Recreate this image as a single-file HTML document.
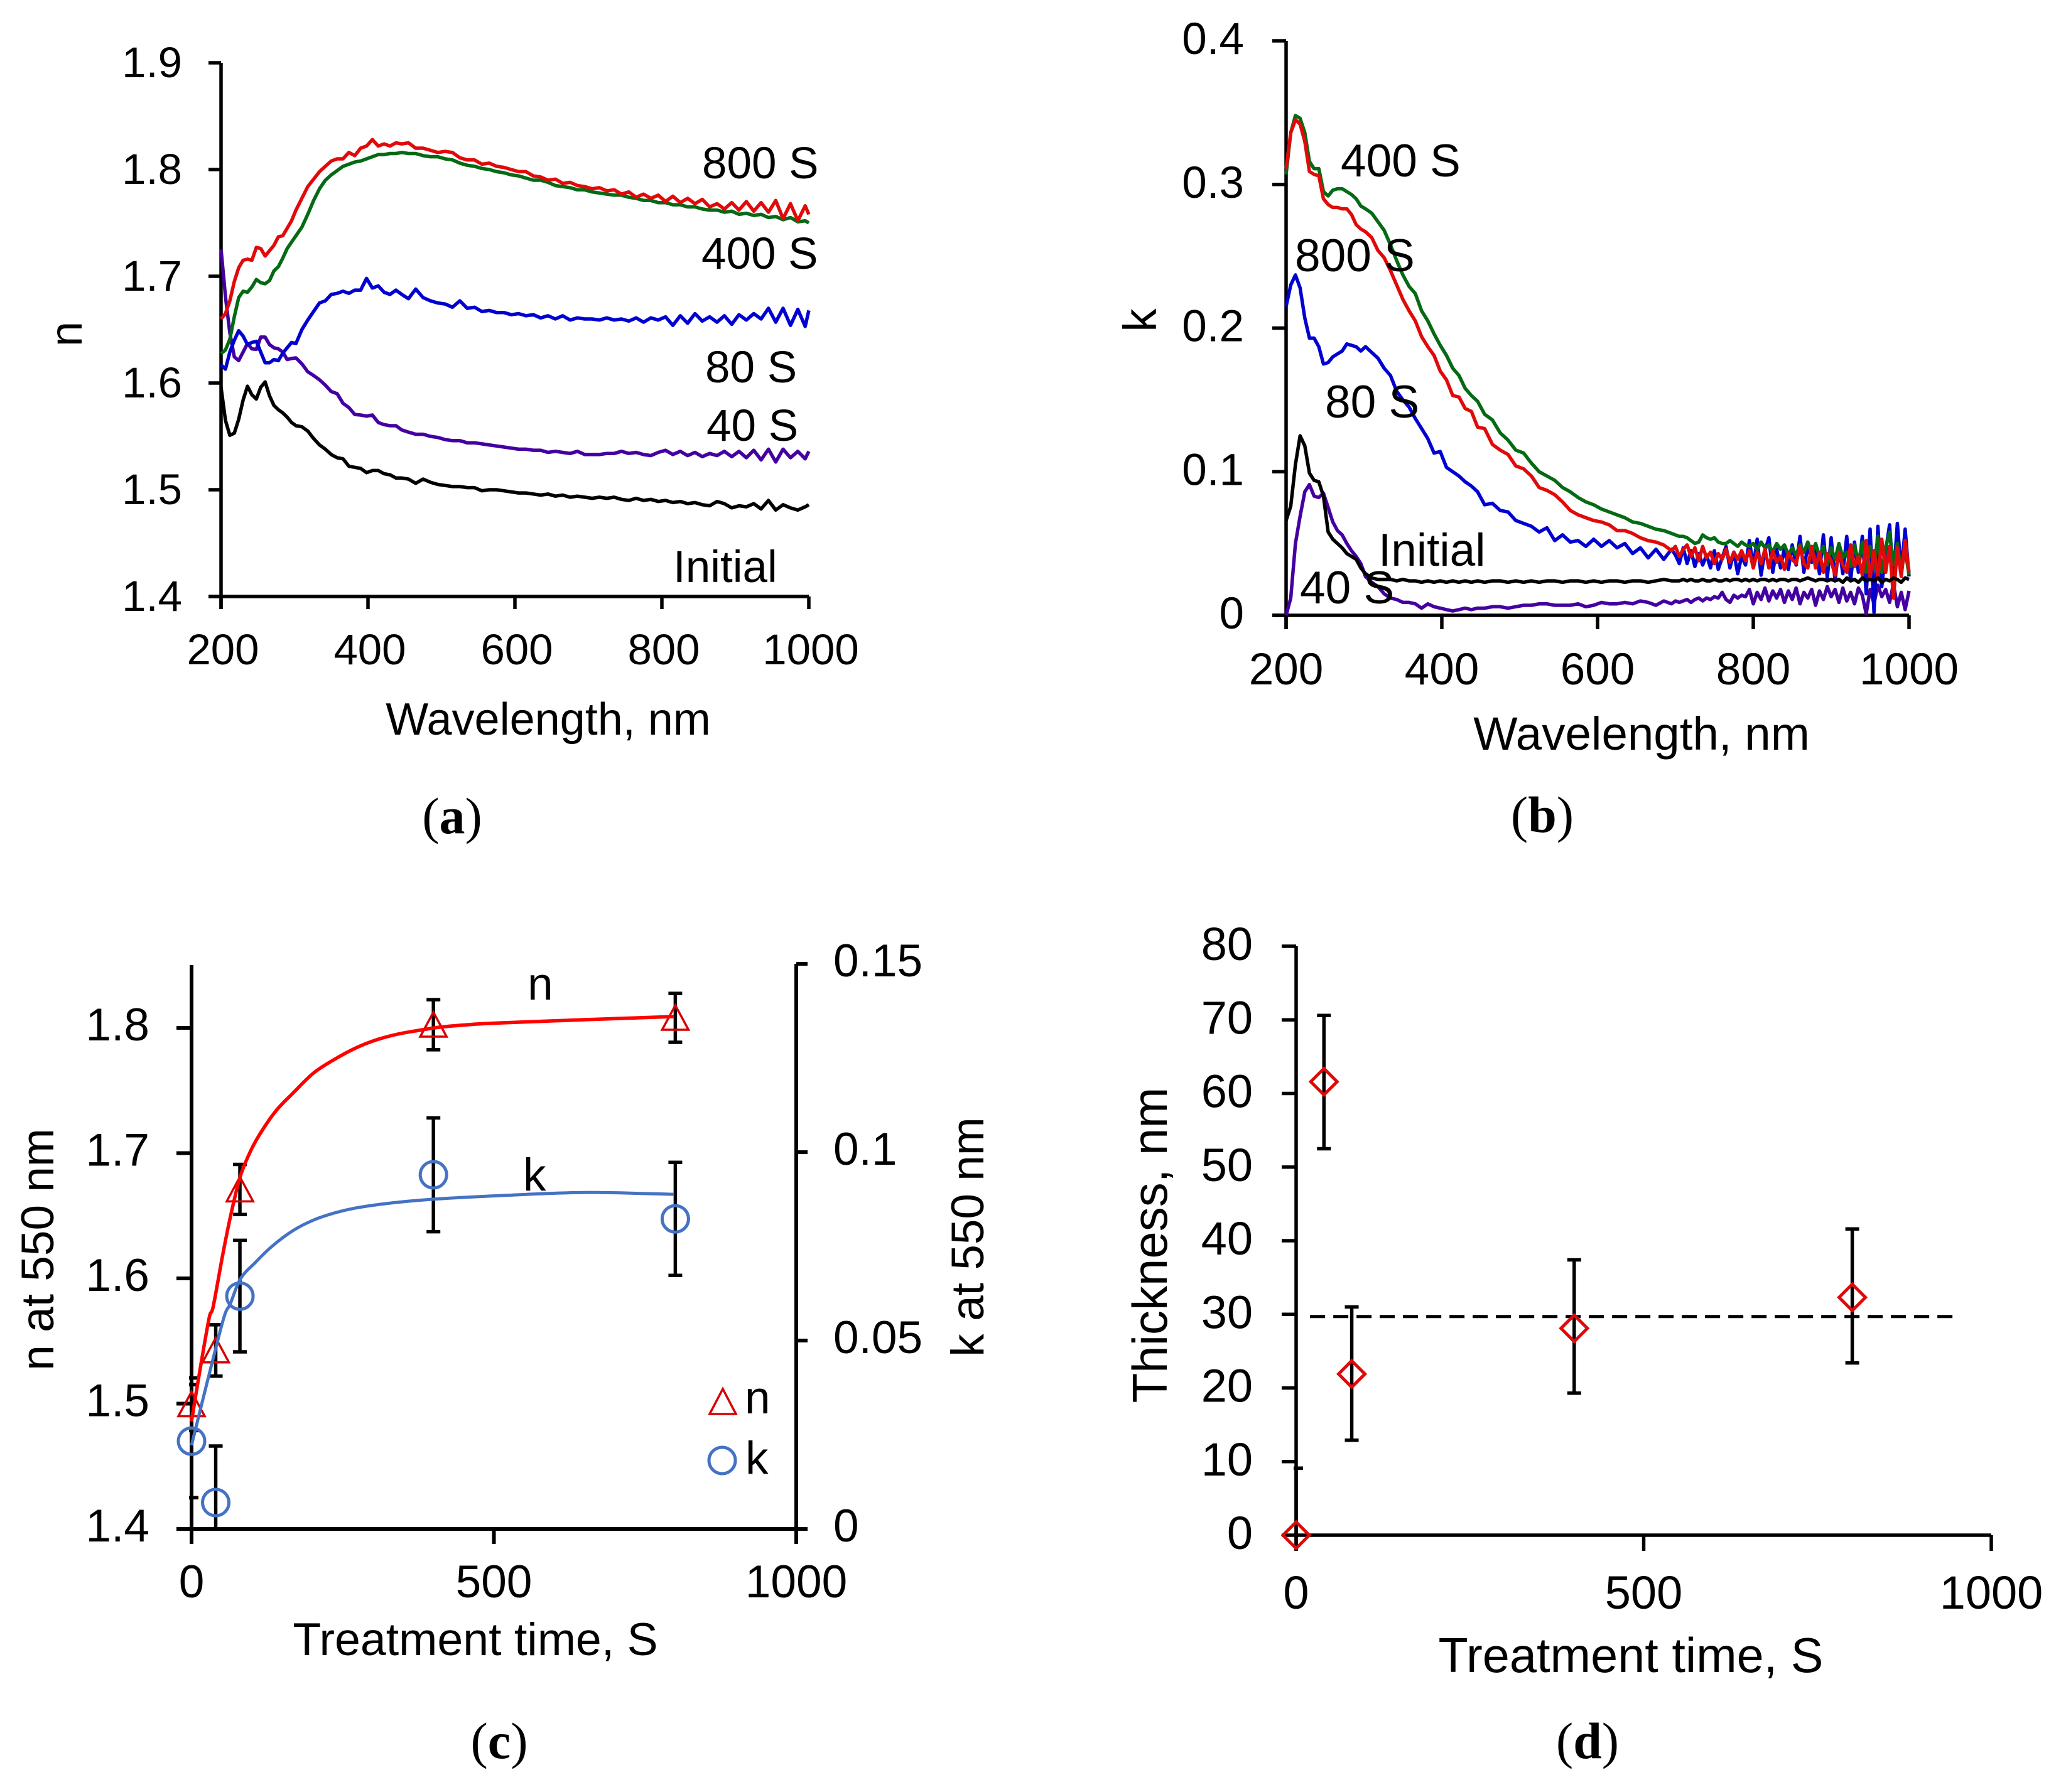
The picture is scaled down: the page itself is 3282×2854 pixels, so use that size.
<!DOCTYPE html>
<html lang="en">
<head>
<meta charset="utf-8">
<title>Optical constants and thickness versus wavelength and treatment time</title>
<style>
html,body{margin:0;padding:0;background:#fff;}
svg{display:block;}
text{font-family:"Liberation Sans",Arial,sans-serif;fill:#000;}
.cap{font-family:"Liberation Serif","Times New Roman",serif;font-size:82px;}
</style>
</head>
<body>
<svg id="figure" xmlns="http://www.w3.org/2000/svg" width="3282" height="2854" viewBox="0 0 3282 2854">
  <rect x="0" y="0" width="3282" height="2854" fill="#fff"/>
  <defs>
    <clipPath id="clip-c"><rect x="301" y="1500" width="1000" height="935"/></clipPath>
    <clipPath id="clip-d"><rect x="2060" y="1480" width="1150" height="965"/></clipPath>
  </defs>
  <g id="panel-a"></g>
  <g id="panel-b"></g>
  <g id="panel-c"></g>
  <g id="panel-d"></g>

  <g font-size="71">
    <text x="873" y="1170" text-anchor="middle" font-size="72">Wavelength, nm</text>
    <text transform="translate(130 532) rotate(-90)" text-anchor="middle" font-size="72">n</text>
    <text x="1118" y="284">800 S</text>
    <text x="1117" y="428">400 S</text>
    <text x="1123" y="609">80 S</text>
    <text x="1125" y="702">40 S</text>
    <text x="1072" y="927">Initial</text>
    <text class="cap" x="720" y="1327" text-anchor="middle">(<tspan font-weight="bold">a</tspan>)</text>
  </g>

  <g font-size="73">
    <text x="2614" y="1194" text-anchor="middle" font-size="74.5">Wavelength, nm</text>
    <text transform="translate(1841 510) rotate(-90)" text-anchor="middle" font-size="74.5">k</text>
    <text x="2135" y="281">400 S</text>
    <text x="2062" y="432">800 S</text>
    <text x="2110" y="665">80 S</text>
    <text x="2195" y="901">Initial</text>
    <text x="2070" y="961">40 S</text>
    <text class="cap" x="2456" y="1325" text-anchor="middle">(<tspan font-weight="bold">b</tspan>)</text>
  </g>

  <g font-size="73">
    <text x="757" y="2636" text-anchor="middle" font-size="73.5">Treatment time, S</text>
    <text transform="translate(85 1990) rotate(-90)" text-anchor="middle">n at 550 nm</text>
    <text transform="translate(1566 1970) rotate(-90)" text-anchor="middle">k at 550 nm</text>
    <text x="840" y="1592">n</text>
    <text x="833" y="1896">k</text>
    <polygon points="1151,2212 1130,2252 1172,2252" fill="none" stroke="#d60000" stroke-width="3.5"/>
    <circle cx="1150" cy="2326" r="21" fill="none" stroke="#4472c4" stroke-width="5"/>
    <text x="1186" y="2251">n</text>
    <text x="1187" y="2347">k</text>
    <text class="cap" x="795" y="2800" text-anchor="middle">(<tspan font-weight="bold">c</tspan>)</text>
  </g>

  <g>
    <text x="2597" y="2663" text-anchor="middle" font-size="77.5">Treatment time, S</text>
    <text transform="translate(1858 1983) rotate(-90)" text-anchor="middle" font-size="78">Thickness, nm</text>
    <text class="cap" x="2528" y="2800" text-anchor="middle">(<tspan font-weight="bold">d</tspan>)</text>
  </g>
</svg>

<script>
/* ---------- Panel (a): n spectra ---------- */
const wavelengthA = [
200,206,212,218,224,230,236,242,248,254,260,266,272,278,284,290,296,
302,310,318,326,334,342,350,358,366,374,382,390,398,406,414,422,430,438,446,
455,465,475,485,495,505,515,525,535,545,555,565,575,585,595,
605,615,625,635,645,655,665,675,685,695,705,715,725,735,745,755,765,775,785,795,
805,815,825,835,845,855,865,875,885,895,905,915,925,935,945,955,965,975,985,995,
1000];
const nInitial = [
1.596,1.565,1.551,1.553,1.566,1.584,1.597,1.589,1.585,1.596,1.601,1.588,1.579,1.575,1.572,1.568,1.563,
1.560,1.559,1.555,1.548,1.542,1.538,1.533,1.530,1.529,1.522,1.521,1.520,1.516,1.518,1.518,1.515,1.514,1.511,1.511,
1.510,1.506,1.510,1.507,1.505,1.504,1.503,1.503,1.502,1.502,1.499,1.500,1.500,1.499,1.498,
1.497,1.497,1.496,1.495,1.496,1.494,1.495,1.493,1.494,1.493,1.492,1.493,1.492,1.493,1.491,1.490,1.492,1.490,1.491,1.489,
1.490,1.488,1.489,1.487,1.488,1.486,1.485,1.489,1.487,1.483,1.485,1.484,1.487,1.482,1.490,1.481,1.486,1.483,1.481,1.484,
1.486];
const n40s = [
1.7255,1.681,1.647,1.6245,1.621,1.629,1.637,1.632,1.6315,1.643,1.643,1.636,1.633,1.632,1.629,1.622,1.623,
1.6235,1.618,1.6105,1.607,1.603,1.598,1.592,1.590,1.581,1.577,1.5705,1.570,1.569,1.570,1.563,1.561,1.560,1.560,1.556,
1.554,1.552,1.552,1.550,1.549,1.547,1.546,1.546,1.544,1.544,1.543,1.542,1.541,1.540,1.539,
1.538,1.538,1.537,1.537,1.535,1.536,1.535,1.534,1.536,1.533,1.533,1.533,1.534,1.534,1.536,1.534,1.535,1.533,1.532,1.535,
1.537,1.533,1.536,1.532,1.535,1.531,1.534,1.532,1.536,1.531,1.536,1.530,1.537,1.528,1.538,1.526,1.538,1.530,1.536,1.529,
1.536];
const n80s = [
1.617,1.613,1.629,1.640,1.649,1.644,1.636,1.638,1.639,1.629,1.619,1.619,1.622,1.621,1.628,1.633,1.638,
1.637,1.650,1.659,1.667,1.675,1.677,1.683,1.684,1.686,1.684,1.687,1.687,1.698,1.689,1.691,1.685,1.683,1.687,1.683,
1.679,1.688,1.680,1.677,1.675,1.674,1.671,1.677,1.670,1.671,1.667,1.668,1.666,1.666,1.664,
1.665,1.663,1.664,1.661,1.663,1.660,1.663,1.659,1.661,1.660,1.660,1.659,1.661,1.659,1.660,1.658,1.661,1.657,1.661,1.659,
1.662,1.654,1.663,1.656,1.665,1.658,1.662,1.657,1.663,1.655,1.664,1.659,1.665,1.660,1.670,1.657,1.670,1.654,1.669,1.653,
1.668];
const n400s = [
1.6275,1.631,1.641,1.662,1.680,1.686,1.685,1.690,1.697,1.694,1.693,1.696,1.705,1.709,1.717,1.726,1.732,
1.738,1.746,1.758,1.771,1.782,1.790,1.795,1.799,1.803,1.805,1.807,1.808,1.810,1.812,1.814,1.814,1.815,1.815,1.816,
1.815,1.815,1.813,1.812,1.812,1.810,1.809,1.806,1.804,1.803,1.801,1.800,1.798,1.797,1.795,
1.794,1.792,1.790,1.790,1.788,1.785,1.784,1.783,1.781,1.781,1.779,1.778,1.777,1.776,1.776,1.774,1.773,1.771,1.771,1.769,
1.769,1.767,1.767,1.765,1.765,1.763,1.762,1.762,1.760,1.761,1.758,1.759,1.757,1.758,1.755,1.756,1.753,1.755,1.751,1.752,
1.750];
const n800s = [
1.660,1.665,1.677,1.695,1.708,1.715,1.716,1.715,1.727,1.726,1.719,1.724,1.729,1.737,1.738,1.745,1.752,
1.762,1.773,1.784,1.791,1.798,1.803,1.808,1.810,1.810,1.816,1.813,1.820,1.822,1.828,1.822,1.824,1.822,1.825,1.824,
1.825,1.820,1.820,1.818,1.816,1.817,1.816,1.811,1.809,1.809,1.805,1.806,1.803,1.802,1.800,
1.798,1.798,1.794,1.793,1.790,1.791,1.787,1.788,1.785,1.784,1.782,1.783,1.780,1.781,1.777,1.779,1.774,1.777,1.773,1.776,
1.770,1.775,1.769,1.773,1.768,1.772,1.765,1.768,1.763,1.769,1.762,1.770,1.761,1.769,1.760,1.771,1.754,1.768,1.752,1.766,
1.758];
const aXTicks = ['200','400','600','800','1000'];
const aYTicks = ['1.4','1.5','1.6','1.7','1.8','1.9'];

/* ---------- Panel (b): k spectra ---------- */
const wavelengthB = [
200,206,212,218,224,230,236,242,248,254,260,266,272,278,284,290,296,
302,310,318,326,334,342,350,358,366,374,382,390,398,406,414,422,430,438,446,
455,465,475,485,495,505,515,525,535,545,555,565,575,585,595,605,615,625,635,645,655,665,675,685,695,
700,705,710,715,720,725,730,735,740,745,
750,755,760,765,770,775,780,785,790,795,
800,805,810,815,820,825,830,835,840,845,
850,855,860,865,870,875,880,885,890,895,
900,905,910,915,920,925,930,935,940,945,
950,955,960,965,970,975,980,985,990,995,
1000];
const k40s = [
0,.012,.050,.069,.086,.091,.083,.082,.085,.075,.065,.059,.056,.050,.045,.041,.036,
.027,.023,.020,.015,.012,.011,.009,.009,.008,.005,.008,.006,.005,.004,.003,.004,.005,.004,.005,
.005,.006,.006,.005,.006,.007,.007,.008,.008,.007,.007,.007,.008,.006,.007,.009,.008,.008,.009,.008,.010,.009,.007,.010,.008,
.010,.009,.010,.011,.009,.011,.012,.010,.012,.011,
.013,.012,.016,.011,.009,.014,.012,.014,.013,.018,
.008,.016,.011,.019,.010,.017,.012,.018,.009,.017,
.011,.019,.008,.016,.012,.018,.007,.017,.011,.020,
.013,.018,.009,.019,.010,.016,.008,.019,.014,.001,
.018,.008,.021,.013,.018,.009,.022,.006,.016,.004,
.017];
const k80s = [
.215,.230,.237,.228,.207,.193,.193,.187,.175,.176,.180,.182,.184,.189,.188,.187,.184,
.187,.183,.179,.172,.167,.156,.150,.145,.137,.130,.123,.113,.114,.103,.100,.097,.093,.090,.086,
.077,.078,.073,.072,.066,.064,.062,.058,.061,.052,.056,.051,.052,.048,.053,.048,.052,.047,.050,.043,.047,.040,.046,.039,.046,
.042,.036,.047,.036,.045,.034,.043,.035,.042,.033,
.045,.032,.040,.048,.033,.044,.029,.041,.035,.052,
.034,.053,.028,.045,.054,.030,.046,.033,.047,.032,
.049,.035,.055,.030,.050,.037,.049,.029,.056,.026,
.054,.024,.048,.029,.055,.024,.051,.030,.055,.015,
.060,.002,.062,.020,.045,.063,.025,.064,.030,.060,
.027];
const k400s = [
.307,.336,.348,.346,.336,.316,.311,.311,.295,.292,.296,.297,.297,.295,.293,.290,.285,
.283,.280,.274,.268,.258,.247,.237,.229,.224,.212,.205,.196,.188,.181,.172,.167,.158,.153,.149,
.140,.136,.127,.122,.115,.113,.106,.100,.097,.094,.089,.086,.082,.079,.077,.074,.072,.070,.068,.065,.064,.062,.060,.059,.057,
.056,.055,.055,.054,.052,.050,.051,.056,.054,.053,
.054,.051,.050,.050,.052,.050,.048,.051,.049,.048,
.050,.046,.051,.047,.049,.044,.050,.046,.049,.042,
.047,.042,.049,.044,.051,.043,.050,.041,.048,.035,
.047,.039,.050,.040,.044,.034,.049,.037,.051,.030,
.048,.033,.055,.030,.047,.058,.035,.050,.030,.046,
.028];
const k800s = [
.311,.336,.345,.342,.330,.309,.307,.306,.290,.286,.284,.284,.283,.283,.279,.272,.269,
.267,.263,.254,.249,.240,.230,.220,.212,.205,.194,.187,.181,.170,.164,.153,.152,.144,.142,.131,
.130,.119,.115,.112,.104,.102,.097,.089,.087,.084,.079,.073,.070,.068,.066,.065,.063,.059,.059,.057,.054,.052,.051,.049,.045,
.048,.041,.046,.049,.041,.047,.038,.048,.040,.044,
.036,.043,.039,.046,.037,.044,.039,.045,.038,.045,
.033,.044,.036,.046,.033,.045,.037,.041,.032,.043,
.039,.036,.048,.036,.033,.048,.033,.044,.030,.043,
.038,.028,.044,.035,.030,.049,.034,.041,.028,.052,
.026,.045,.026,.053,.030,.048,.012,.047,.027,.052,
.030];
const kInitial = [
.066,.076,.105,.125,.118,.099,.094,.093,.083,.058,.053,.050,.047,.043,.041,.039,.033,
.029,.026,.025,.025,.025,.024,.025,.024,.024,.023,.024,.023,.024,.023,.024,.023,.024,.023,.024,
.023,.024,.024,.023,.024,.023,.024,.023,.024,.024,.023,.024,.024,.023,.024,.023,.024,.024,.023,.024,.024,.023,.024,.025,.024,
.024,.024,.025,.024,.025,.024,.024,.025,.024,.024,
.025,.024,.024,.025,.024,.025,.025,.024,.025,.024,
.025,.024,.025,.025,.024,.025,.024,.025,.025,.024,
.025,.025,.024,.025,.026,.025,.024,.025,.025,.024,
.025,.024,.025,.023,.026,.024,.025,.023,.026,.024,
.025,.024,.026,.023,.025,.024,.026,.025,.023,.026,
.025];
const bXTicks = ['200','400','600','800','1000'];
const bYTicks = ['0','0.1','0.2','0.3','0.4'];

/* ---------- Panel (c): n and k at 550 nm ---------- */
const treatmentTimes = [0,40,80,400,800];
const nAt550 = [1.4995,1.5425,1.671,1.8025,1.808];
const nAt550Err = [0.021,0.0205,0.020,0.020,0.0195];
const kAt550 = [0.0233,0.007,0.0618,0.094,0.0823];
const kAt550Err = [0.015,0.015,0.0148,0.0151,0.015];
const nFitTime = [0,14,29,36,52,66,81,99,116,140,168,202,237,272,306,341,376,410,462,514,650,798];
const nFitValue = [1.486,1.527,1.568,1.578,1.62,1.653,1.682,1.703,1.7175,1.734,1.748,1.764,1.775,1.784,1.7905,1.795,1.798,1.8005,1.8027,1.804,1.8065,1.809];
const kFitTime = [0,26,53,64,81,106,133,168,202,237,272,324,398,514,650,798];
const kFitValue = [0.0222,0.039,0.0558,0.0597,0.0664,0.0708,0.075,0.0792,0.082,0.0839,0.0852,0.0864,0.0875,0.0885,0.0893,0.0888];
const cXTicks = ['0','500','1000'];
const cYLeftTicks = ['1.4','1.5','1.6','1.7','1.8'];
const cYRightTicks = ['0','0.05','0.1','0.15'];

/* ---------- Panel (d): thickness ---------- */
const thicknessTimes = [0,40,80,400,800];
const thicknessValues = [0,61.6,21.9,28.1,32.3];
const thicknessBarMid = [0,61.55,21.95,28.35,32.5];
const thicknessErr = [9.1,9.05,9.05,9.05,9.1];
const meanThickness = [29.7];
const meanTimes = [20,950];
const dXTicks = ['0','500','1000'];
const dYTicks = ['0','10','20','30','40','50','60','70','80'];

/* ---------- Drawing helpers ---------- */
const NS = 'http://www.w3.org/2000/svg';
function make(tag, parent, attrs) {
  const e = document.createElementNS(NS, tag);
  for (const key in attrs) { e.setAttribute(key, attrs[key]); }
  parent.appendChild(e);
  return e;
}
function scale(d0, d1, p0, p1) {
  return function (v) { return p0 + (v - d0) * (p1 - p0) / (d1 - d0); };
}
function segment(parent, x1, y1, x2, y2, width, name) {
  const line = make('line', parent, { x1: x1, y1: y1, x2: x2, y2: y2, stroke: '#000', 'stroke-width': width });
  
  
  return line;
}
function tickText(parent, x, y, label, size, anchor, name) {
  const t = make('text', parent, { x: x, y: y, 'font-size': size, 'text-anchor': anchor });
  t.textContent = label;
  
  
  return t;
}
function bottomAxis(parent, ticks, sx, baseY, tickEnd, labelY, size, width, labelDx) {
  ticks.forEach(function (label) {
    const x = sx(Number(label));
    segment(parent, x, baseY, x, tickEnd, width, 'x-tick-' + label);
    tickText(parent, x + labelDx, labelY, label, size, 'middle', 'x-tick-label-' + label);
  });
}
function sideAxis(parent, ticks, sy, axisX, tickEnd, labelX, labelDy, size, width, anchor) {
  ticks.forEach(function (label) {
    const y = sy(Number(label));
    segment(parent, tickEnd, y, axisX, y, width, 'y-tick-' + label);
    tickText(parent, labelX, y + labelDy, label, size, anchor, 'y-tick-label-' + label);
  });
}
function spectrum(parent, xs, ys, sx, sy, color, width, name) {
  let d = '';
  xs.forEach(function (x, i) {
    d += (i ? 'L' : 'M') + sx(x).toFixed(1) + ' ' + sy(ys[i]).toFixed(1);
  });
  const p = make('path', parent, { d: d, fill: 'none', stroke: color, 'stroke-width': width, 'stroke-linejoin': 'round' });
  
  
  return p;
}
function fitCurve(parent, xs, ys, sx, sy, color, width, name) {
  const px = xs.map(sx);
  const py = ys.map(sy);
  let d = 'M' + px[0].toFixed(1) + ' ' + py[0].toFixed(1);
  for (let i = 0; i < px.length - 1; i++) {
    const a = Math.max(i - 1, 0);
    const b = Math.min(i + 2, px.length - 1);
    const c1x = px[i] + (px[i + 1] - px[a]) / 6;
    const c1y = py[i] + (py[i + 1] - py[a]) / 6;
    const c2x = px[i + 1] - (px[b] - px[i]) / 6;
    const c2y = py[i + 1] - (py[b] - py[i]) / 6;
    d += 'C' + c1x.toFixed(1) + ' ' + c1y.toFixed(1) + ' ' + c2x.toFixed(1) + ' ' + c2y.toFixed(1) + ' ' + px[i + 1].toFixed(1) + ' ' + py[i + 1].toFixed(1);
  }
  const p = make('path', parent, { d: d, fill: 'none', stroke: color, 'stroke-width': width });
  
  
  return p;
}
function errorBars(parent, xs, ys, errs, sx, sy, clipId, name) {
  const g = make('g', parent, { 'clip-path': 'url(#' + clipId + ')' });
  
  
  xs.forEach(function (t, i) {
    const x = sx(t);
    const top = sy(ys[i] + errs[i]);
    const bottom = sy(ys[i] - errs[i]);
    segment(g, x, top, x, bottom, 5.5, name + '-stem');
    segment(g, x - 11, top, x + 11, top, 5.5, name + '-cap-upper');
    segment(g, x - 11, bottom, x + 11, bottom, 5.5, name + '-cap-lower');
  });
}

/* ---------- Panel a ---------- */
(function () {
  const g = document.getElementById('panel-a');
  const sx = scale(200, 1000, 352, 1288);
  const sy = scale(1.4, 1.9, 950, 100);
  segment(g, 352, 100, 352, 970, 5.5, 'y-axis-line');
  segment(g, 332, 950, 1288, 950, 5.5, 'x-axis-line');
  bottomAxis(g, aXTicks, sx, 950, 970, 1058, 69, 5.5, 3);
  sideAxis(g, aYTicks, sy, 352, 332, 290, 23, 69, 5.5, 'end');
  spectrum(g, wavelengthA, nInitial, sx, sy, '#000000', 5.5, 'series-initial-n');
  spectrum(g, wavelengthA, n40s, sx, sy, '#4400a0', 5.5, 'series-40s-n');
  spectrum(g, wavelengthA, n80s, sx, sy, '#0000d0', 5.5, 'series-80s-n');
  spectrum(g, wavelengthA, n400s, sx, sy, '#046a14', 5.5, 'series-400s-n');
  spectrum(g, wavelengthA, n800s, sx, sy, '#e10a0a', 5.5, 'series-800s-n');
})();

/* ---------- Panel b ---------- */
(function () {
  const g = document.getElementById('panel-b');
  const sx = scale(200, 1000, 2048, 3040);
  const sy = scale(0, 0.4, 980, 65);
  segment(g, 2048, 65, 2048, 1002, 5.5, 'y-axis-line');
  segment(g, 2026, 980, 3040, 980, 5.5, 'x-axis-line');
  bottomAxis(g, bXTicks, sx, 980, 1002, 1090, 71, 5.5, 0);
  sideAxis(g, bYTicks, sy, 2048, 2026, 1981, 21, 71, 5.5, 'end');
  spectrum(g, wavelengthB, k40s, sx, sy, '#4400a0', 5.5, 'series-40s-k');
  spectrum(g, wavelengthB, k80s, sx, sy, '#0000d0', 5.5, 'series-80s-k');
  spectrum(g, wavelengthB, k400s, sx, sy, '#046a14', 5.5, 'series-400s-k');
  spectrum(g, wavelengthB, k800s, sx, sy, '#e10a0a', 5.5, 'series-800s-k');
  spectrum(g, wavelengthB, kInitial, sx, sy, '#000000', 5.5, 'series-initial-k');
})();

/* ---------- Panel c ---------- */
(function () {
  const g = document.getElementById('panel-c');
  const sx = scale(0, 1000, 305, 1268);
  const syN = scale(1.4, 1.8, 2435, 1637);
  const syK = scale(0, 0.15, 2435, 1535);
  segment(g, 305, 1537, 305, 2459, 6, 'left-y-axis-line');
  segment(g, 1268, 1535, 1268, 2459, 6, 'right-y-axis-line');
  segment(g, 281, 2435, 1286, 2435, 6, 'x-axis-line');
  bottomAxis(g, cXTicks, sx, 2435, 2459, 2544, 73, 6, 0);
  sideAxis(g, cYLeftTicks, syN, 305, 281, 238, 20, 73, 6, 'end');
  sideAxis(g, cYRightTicks, syK, 1286, 1268, 1327, 20, 73, 6, 'start');
  errorBars(g, treatmentTimes, nAt550, nAt550Err, sx, syN, 'clip-c', 'n-error-bar');
  errorBars(g, treatmentTimes, kAt550, kAt550Err, sx, syK, 'clip-c', 'k-error-bar');
  treatmentTimes.forEach(function (t, i) {
    const x = sx(t);
    const y = syN(nAt550[i]);
    const tri = make('polygon', g, {
      points: x + ',' + (y - 20) + ' ' + (x - 21) + ',' + (y + 19) + ' ' + (x + 21) + ',' + (y + 19),
      fill: 'none', stroke: '#d60000', 'stroke-width': 3.5
    });
    
    
  });
  treatmentTimes.forEach(function (t, i) {
    const c = make('circle', g, {
      cx: sx(t), cy: syK(kAt550[i]), r: 21, fill: 'none', stroke: '#4472c4', 'stroke-width': 5
    });
    
    
  });
  fitCurve(g, nFitTime, nFitValue, sx, syN, '#ff0000', 5.5, 'n-fit-curve');
  fitCurve(g, kFitTime, kFitValue, sx, syK, '#4472c4', 5, 'k-fit-curve');
})();

/* ---------- Panel d ---------- */
(function () {
  const g = document.getElementById('panel-d');
  const sx = scale(0, 1000, 2064, 3171);
  const sy = scale(0, 80, 2445, 1507);
  segment(g, 2064, 1507, 2064, 2470, 5.5, 'y-axis-line');
  segment(g, 2064, 2445, 3171, 2445, 5.5, 'x-axis-line');
  bottomAxis(g, dXTicks, sx, 2445, 2470, 2562, 74, 5.5, 0);
  sideAxis(g, dYTicks, sy, 2064, 2041, 1995, 22, 74, 5.5, 'end');
  const mean = make('line', g, {
    x1: sx(meanTimes[0]), x2: sx(meanTimes[1]), y1: sy(meanThickness[0]), y2: sy(meanThickness[0]),
    stroke: '#000', 'stroke-width': 5, 'stroke-dasharray': '24 13'
  });
  
  
  errorBars(g, thicknessTimes, thicknessBarMid, thicknessErr, sx, sy, 'clip-d', 'thickness-error-bar');
  thicknessTimes.forEach(function (t, i) {
    const x = sx(t);
    const y = sy(thicknessValues[i]);
    const dia = make('polygon', g, {
      points: x + ',' + (y - 21) + ' ' + (x + 21) + ',' + y + ' ' + x + ',' + (y + 21) + ' ' + (x - 21) + ',' + y,
      fill: 'none', stroke: '#dc0a0a', 'stroke-width': 5
    });
    
    
  });
})();
</script>
</body>
</html>
